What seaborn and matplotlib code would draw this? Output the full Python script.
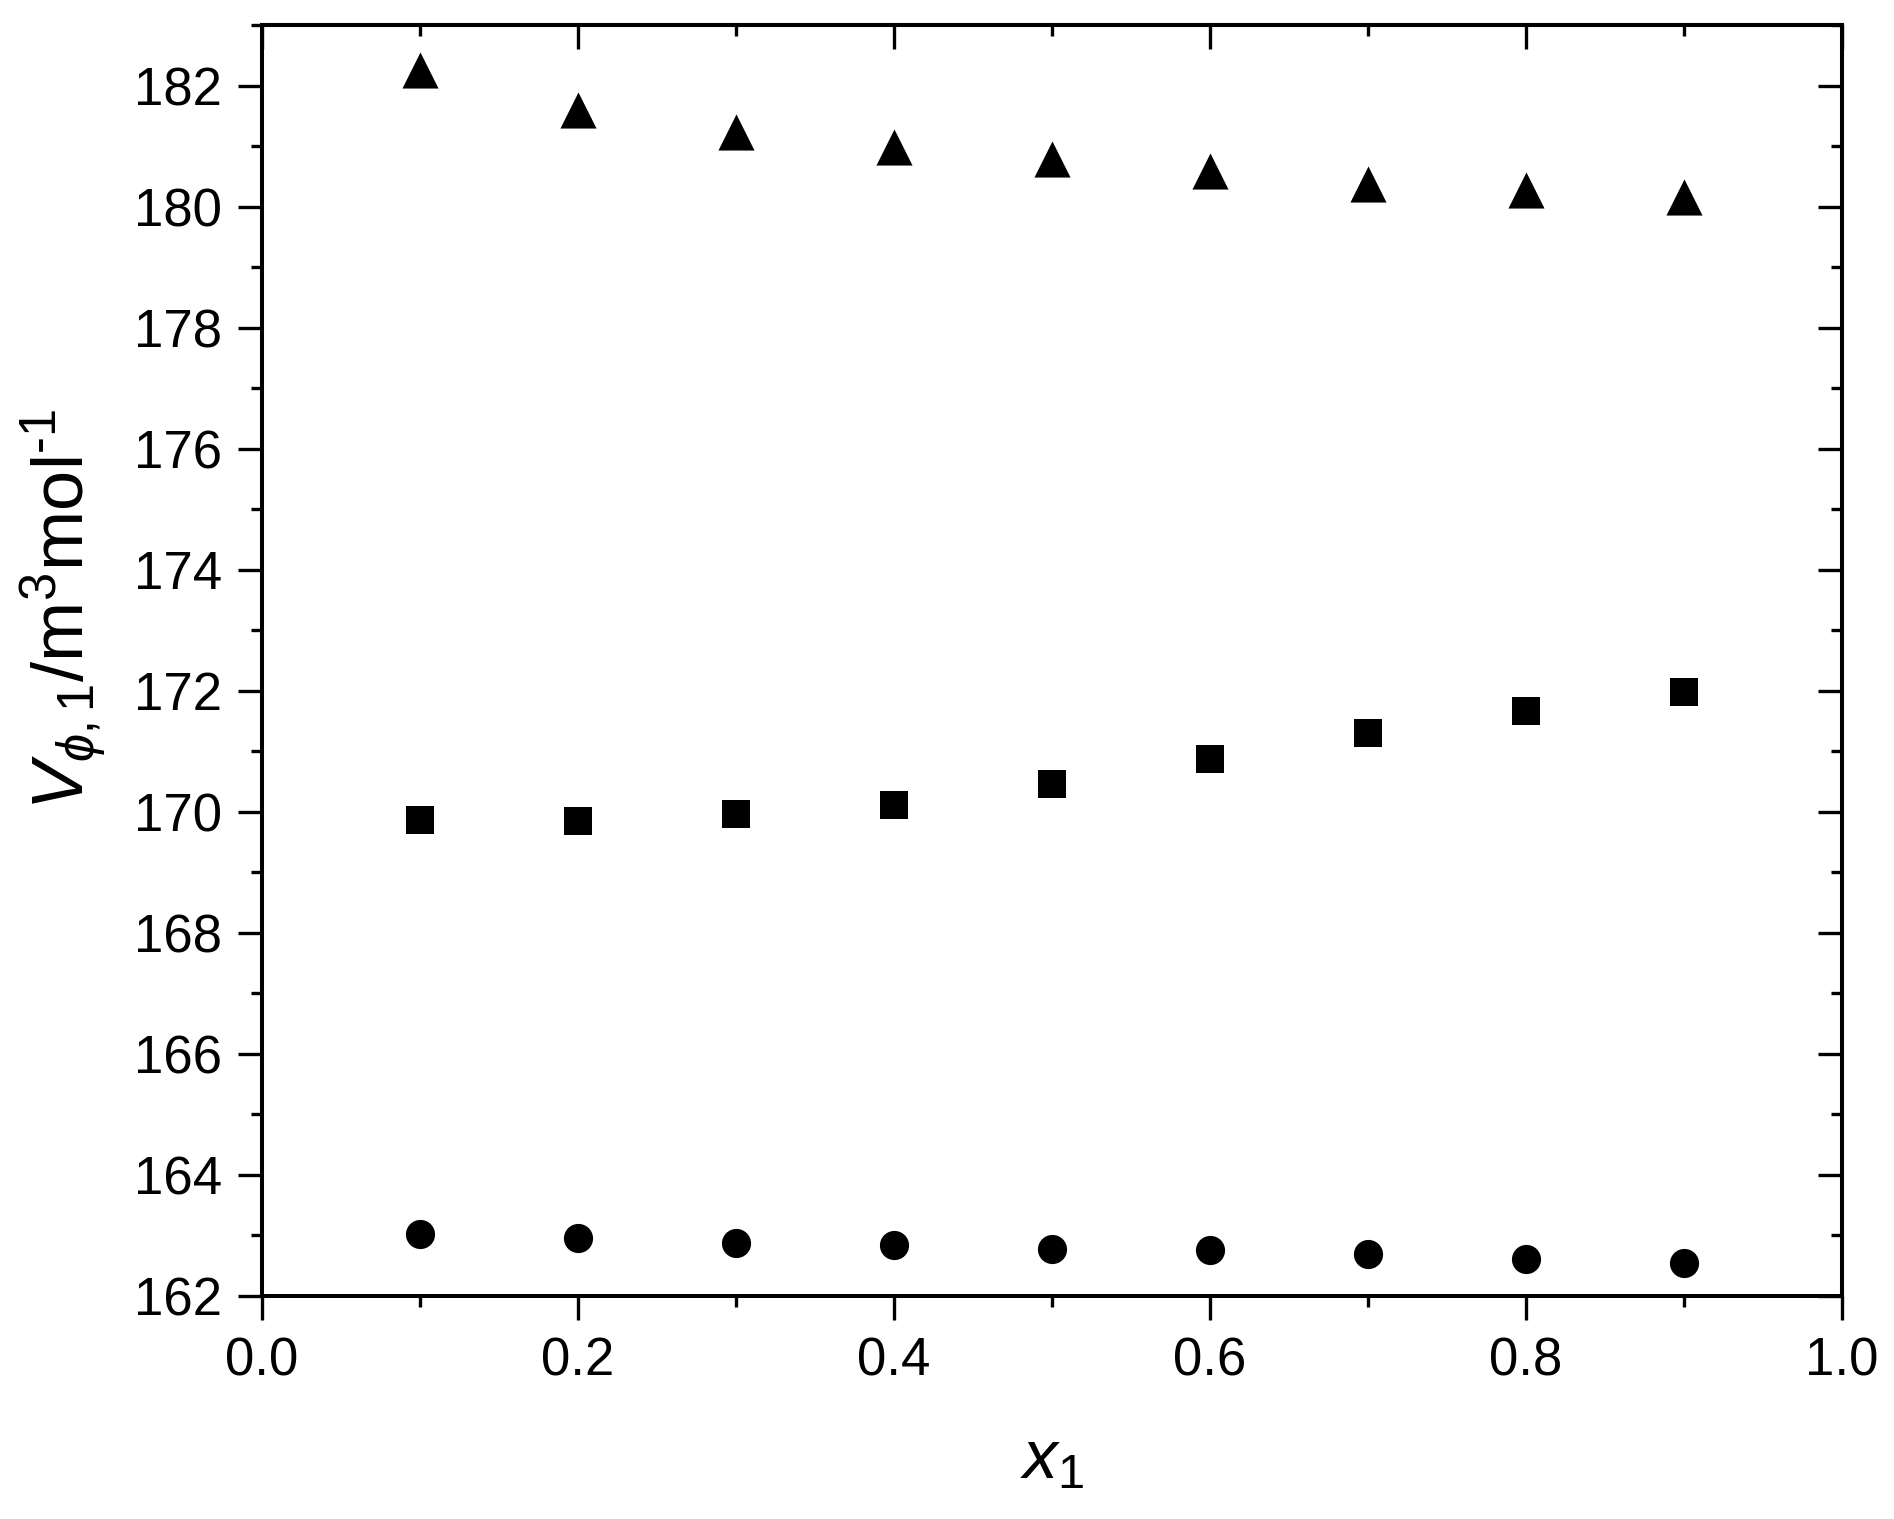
import numpy as np
import pandas as pd
import matplotlib
matplotlib.use("Agg")
import matplotlib.pyplot as plt
from matplotlib.ticker import MultipleLocator
import seaborn as sns

# ---- data ----
x1 = [0.1, 0.2, 0.3, 0.4, 0.5, 0.6, 0.7, 0.8, 0.9]
v_triangle = [182.25, 181.60, 181.24, 180.98, 180.78, 180.58, 180.38, 180.28, 180.16]
v_square = [169.86, 169.84, 169.96, 170.12, 170.46, 170.88, 171.30, 171.66, 171.98]
v_circle = [163.03, 162.96, 162.88, 162.84, 162.78, 162.76, 162.70, 162.61, 162.54]

x_ticks = [0.0, 0.2, 0.4, 0.6, 0.8, 1.0]
y_ticks = [162, 164, 166, 168, 170, 172, 174, 176, 178, 180, 182]

sns.set_theme(style="ticks")
plt.rcParams['font.family'] = ['Liberation Sans', 'DejaVu Sans']
plt.rcParams['mathtext.fontset'] = 'custom'
plt.rcParams['mathtext.rm'] = 'Liberation Sans'
plt.rcParams['mathtext.it'] = 'Liberation Sans:italic'
plt.rcParams['mathtext.bf'] = 'Liberation Sans:bold'
plt.rcParams['text.color'] = 'black'
plt.rcParams['axes.labelcolor'] = 'black'

W, H = 1894, 1519
fig = plt.figure(figsize=(W / 100, H / 100), dpi=100)
L, R, T, B = 262, 1842, 25, 1296
ax = fig.add_axes([L / W, 1 - B / H, (R - L) / W, (B - T) / H])

series = [
    (v_triangle, '^', 26 ** 2),
    (v_square, 's', 19.5 ** 2),
    (v_circle, 'o', 21 ** 2),
]
for vals, mk, s in series:
    df = pd.DataFrame({"x": x1, "v": vals})
    sns.scatterplot(data=df, x="x", y="v", marker=mk, s=s, color="black",
                    linewidth=0, ax=ax, legend=False)

ax.set_xlim(0, 1.0)
ax.set_ylim(162, 183)
ax.set_xticks(x_ticks)
ax.set_xticklabels([f"{t:.1f}" for t in x_ticks])
ax.set_yticks(y_ticks)
ax.set_yticklabels([str(t) for t in y_ticks])
ax.xaxis.set_minor_locator(MultipleLocator(0.1))
ax.yaxis.set_minor_locator(MultipleLocator(1))

for sp in ax.spines.values():
    sp.set_visible(True)
    sp.set_linewidth(2.9)
    sp.set_color("black")

ax.tick_params(axis='both', which='major', direction='out', length=17, width=2.4,
               labelsize=38, pad=12, color='black', labelcolor='black')
ax.tick_params(axis='both', which='minor', direction='out', length=8, width=2.4, color='black')

sec_x = ax.secondary_xaxis('top')
sec_x.set_xticks(x_ticks)
sec_x.xaxis.set_minor_locator(MultipleLocator(0.1))
sec_x.tick_params(which='major', direction='in', length=17, width=2.4, labeltop=False, color='black')
sec_x.tick_params(which='minor', direction='in', length=8, width=2.4, color='black')
sec_x.spines['top'].set_linewidth(2.9)
sec_x.spines['top'].set_color('black')
sec_y = ax.secondary_yaxis('right')
sec_y.set_yticks(y_ticks)
sec_y.yaxis.set_minor_locator(MultipleLocator(1))
sec_y.tick_params(which='major', direction='in', length=17, width=2.4, labelright=False, color='black')
sec_y.tick_params(which='minor', direction='in', length=8, width=2.4, color='black')
sec_y.spines['right'].set_linewidth(2.9)
sec_y.spines['right'].set_color('black')
ax.tick_params(axis='both', which='both', top=False, right=False)

ax.set_xlabel(r"$x_1$", fontsize=50, labelpad=30, color='black')
ax.set_ylabel(r"$V_{\phi,\mathit{1}}$/m$^3$mol$^{\text{-}1}$", fontsize=52, color='black')
ax.yaxis.set_label_coords(-0.097, 0.54)
ax.grid(False)

fig.savefig("out.png", dpi=100)
